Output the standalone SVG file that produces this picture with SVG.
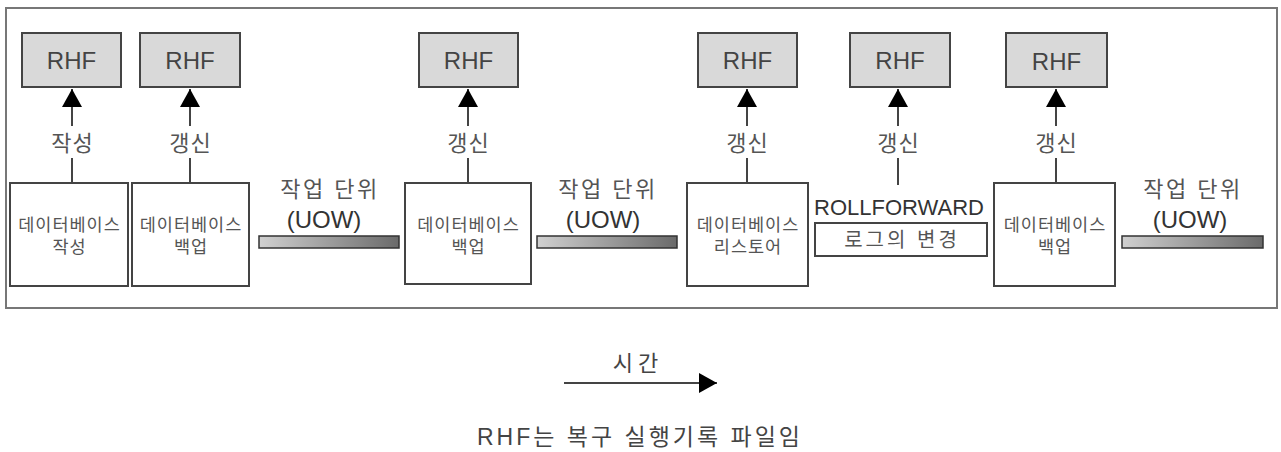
<svg xmlns="http://www.w3.org/2000/svg" width="1281" height="452" viewBox="0 0 1281 452">
<style>
text{font-family:"Liberation Sans","Noto Sans CJK KR",sans-serif;fill:#444;text-anchor:middle}
.rhf rect{fill:#d9d9d9;stroke:#444;stroke-width:2}
.rhf text{font-size:24px}
.db rect{fill:#fff;stroke:#444;stroke-width:2}
.db text{font-size:17.5px;fill:#555;letter-spacing:1px}
.lbl{font-size:22px;fill:#555;letter-spacing:1px}
.uow rect{fill:url(#g);stroke:#333;stroke-width:1.5}
.uow .k{font-size:22px;fill:#555;letter-spacing:2.5px}
.uow .e{font-size:24px;fill:#333}
.conn line{stroke:#444;stroke-width:2}
</style>
<defs>
<linearGradient id="g" x1="0" y1="0" x2="1" y2="0">
<stop offset="0" stop-color="#d0d0d0"/>
<stop offset="1" stop-color="#6a6a6a"/>
</linearGradient>
<marker id="ah2" viewBox="0 0 18 20" refX="18" refY="10" markerWidth="18" markerHeight="20" orient="auto" markerUnits="userSpaceOnUse">
<path d="M0,0 L18,10 L0,20 z" fill="#000"/>
</marker>
</defs>
<rect x="6" y="8" width="1271" height="300" fill="#fff" stroke="#777" stroke-width="2"/>

<g id="rhf1" class="rhf"><rect x="22" y="33" width="99" height="54"/><text x="71.5" y="69">RHF</text></g>
<g id="rhf2" class="rhf"><rect x="140" y="33" width="100" height="54"/><text x="190" y="69">RHF</text></g>
<g id="rhf3" class="rhf"><rect x="419" y="33" width="99" height="54"/><text x="468.5" y="69">RHF</text></g>
<g id="rhf4" class="rhf"><rect x="698" y="33" width="99" height="54"/><text x="747.5" y="69">RHF</text></g>
<g id="rhf5" class="rhf"><rect x="850" y="33" width="100" height="54"/><text x="900" y="69">RHF</text></g>
<g id="rhf6" class="rhf"><rect x="1006" y="33" width="101" height="54"/><text x="1056.5" y="70">RHF</text></g>

<g id="db1" class="db"><rect x="10" y="183" width="118" height="103"/><text x="69.5" y="231">데이터베이스</text><text x="69.5" y="253">작성</text></g>
<g id="db2" class="db"><rect x="132" y="183" width="117" height="103"/><text x="191" y="231">데이터베이스</text><text x="191" y="253">백업</text></g>
<g id="db3" class="db"><rect x="405" y="183" width="126" height="101"/><text x="468.5" y="231">데이터베이스</text><text x="468.5" y="253">백업</text></g>
<g id="db4" class="db"><rect x="687" y="183" width="121" height="103"/><text x="748" y="231">데이터베이스</text><text x="748" y="253">리스토어</text></g>
<g id="db5" class="db"><rect x="994" y="183" width="121" height="103"/><text x="1055" y="231">데이터베이스</text><text x="1055" y="253">백업</text></g>

<g id="rollforward">
<text x="899" y="215" style="font-size:22px;fill:#333">ROLLFORWARD</text>
<rect x="815" y="223" width="172" height="33" fill="#fff" stroke="#444" stroke-width="2"/>
<text x="902" y="247" style="font-size:20px;fill:#555;letter-spacing:3px">로그의 변경</text>
</g>

<g id="uow1" class="uow"><text class="k" x="330" y="197">작업 단위</text><text class="e" x="324" y="228">(UOW)</text><rect x="259" y="236" width="140" height="12"/></g>
<g id="uow2" class="uow"><text class="k" x="608" y="197">작업 단위</text><text class="e" x="603" y="228">(UOW)</text><rect x="537" y="236" width="140" height="12"/></g>
<g id="uow3" class="uow"><text class="k" x="1193" y="197">작업 단위</text><text class="e" x="1190" y="228">(UOW)</text><rect x="1122" y="236" width="141" height="12"/></g>

<g id="connectors" class="conn">
<line x1="72" y1="183" x2="72" y2="158"/><line x1="72" y1="126" x2="72" y2="89" marker-end="url(#ah2)"/>
<line x1="190" y1="183" x2="190" y2="158"/><line x1="190" y1="126" x2="190" y2="89" marker-end="url(#ah2)"/>
<line x1="468" y1="183" x2="468" y2="158"/><line x1="468" y1="126" x2="468" y2="89" marker-end="url(#ah2)"/>
<line x1="747" y1="183" x2="747" y2="158"/><line x1="747" y1="126" x2="747" y2="89" marker-end="url(#ah2)"/>
<line x1="898" y1="185" x2="898" y2="158"/><line x1="898" y1="126" x2="898" y2="89" marker-end="url(#ah2)"/>
<line x1="1056" y1="183" x2="1056" y2="158"/><line x1="1056" y1="126" x2="1056" y2="89" marker-end="url(#ah2)"/>
<line x1="564" y1="383" x2="717" y2="383" marker-end="url(#ah2)"/>
</g>

<text class="lbl" x="72.5" y="151">작성</text>
<text class="lbl" x="190.5" y="151">갱신</text>
<text class="lbl" x="468.5" y="151">갱신</text>
<text class="lbl" x="747.5" y="151">갱신</text>
<text class="lbl" x="898.5" y="151">갱신</text>
<text class="lbl" x="1056.5" y="151">갱신</text>

<text x="638" y="371" style="font-size:22px;fill:#444;letter-spacing:5px">시간</text>
<text x="640" y="445" style="font-size:23px;fill:#444;letter-spacing:3px">RHF는 복구 실행기록 파일임</text>
</svg>
